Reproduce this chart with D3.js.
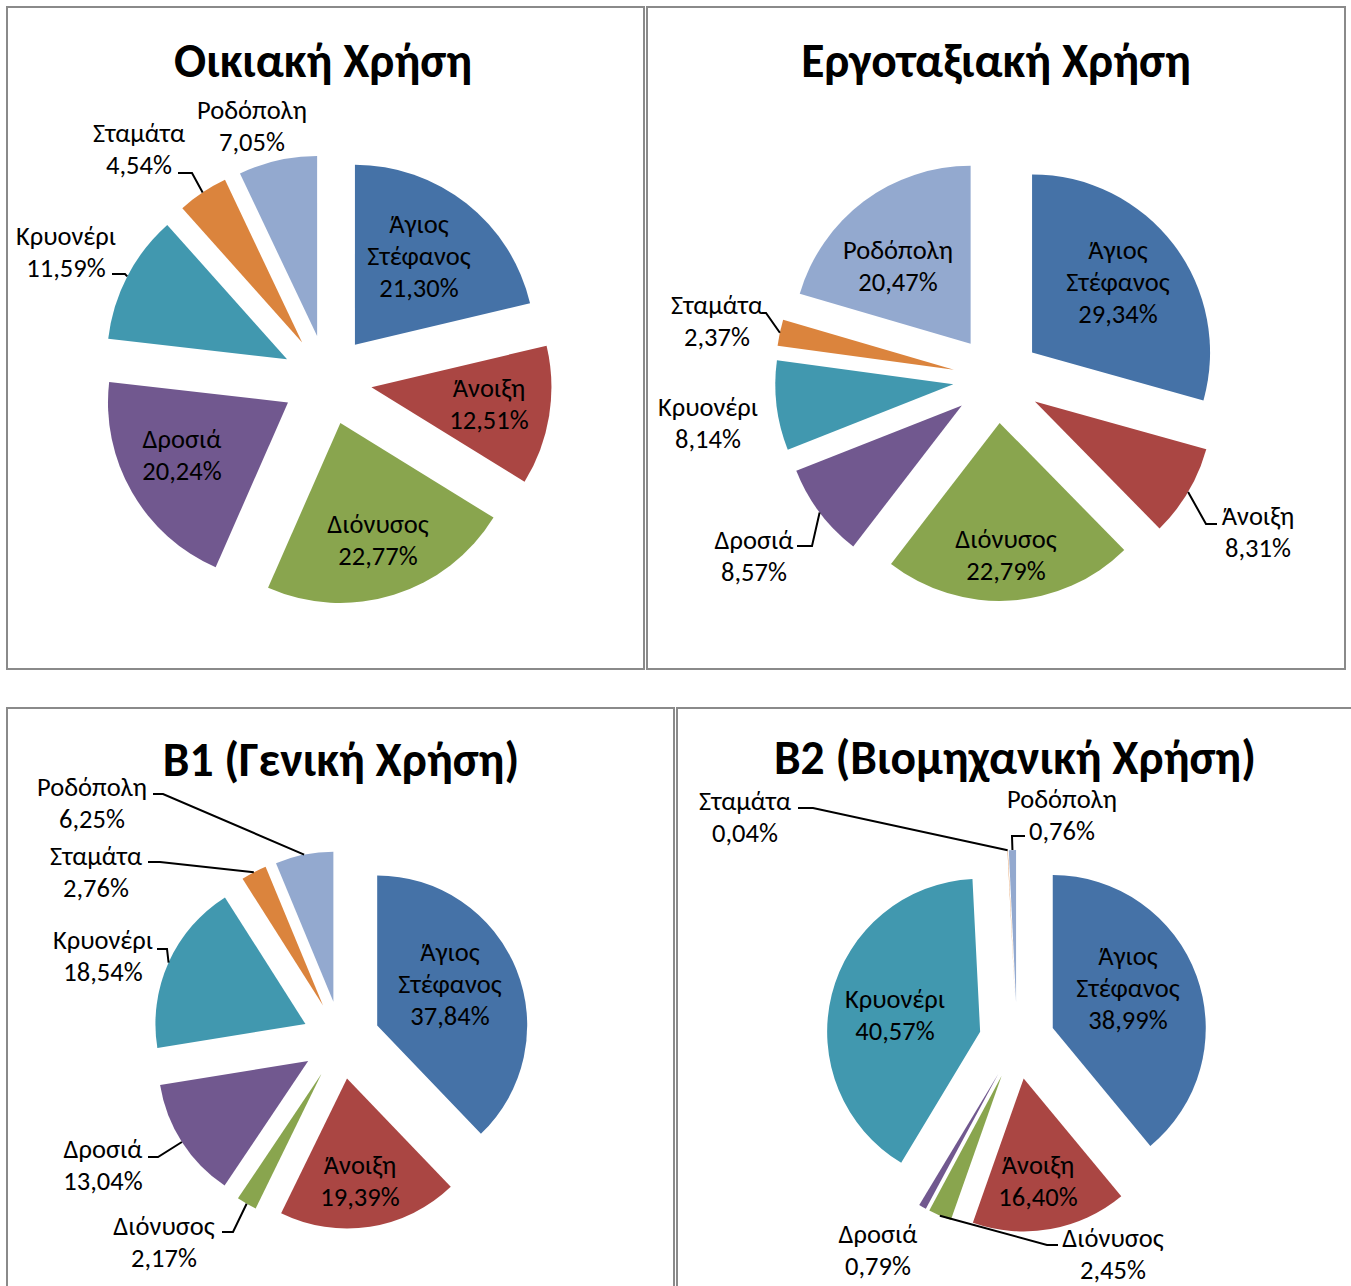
<!DOCTYPE html>
<html>
<head>
<meta charset="utf-8">
<script src="https://cdn.jsdelivr.net/npm/d3@7"></script>
<style>
  body { margin: 0; background: #fff; }
  svg text { font-family: Carlito, Calibri, "Noto Sans", sans-serif; fill: #000; }
</style>
</head>
<body>
<svg id="chart" width="1351" height="1286"></svg>
<script>
// slice names, in Excel's clockwise order from 12 o'clock
var categories = ["Άγιος Στέφανος", "Άνοιξη", "Διόνυσος", "Δροσιά", "Κρυονέρι", "Σταμάτα", "Ροδόπολη"];
var colors = ["#4572A7", "#AA4643", "#89A54E", "#71588F", "#4198AF", "#DB843D", "#93A9CF"];
var titles = ["Οικιακή Χρήση", "Εργοταξιακή Χρήση", "B1 (Γενική Χρήση)", "B2 (Βιομηχανική Χρήση)"];

// percentages
var oikiaki     = [21.30, 12.51, 22.77, 20.24, 11.59, 4.54, 7.05];
var ergotaxiaki = [29.34,  8.31, 22.79,  8.57,  8.14, 2.37, 20.47];
var b1Geniki    = [37.84, 19.39,  2.17, 13.04, 18.54, 2.76, 6.25];
var b2Viomix    = [38.99, 16.40,  2.45,  0.79, 40.57, 0.04, 0.76];

// layout of the four panels (label spots = centre of label block; leader = [elbowX, elbowY, endX])
var panels = [
  { values: oikiaki, box: [7, 7, 637, 662], titleX: 323, titleY: 77,
    cx: 327, cy: 380, r: 180, explode: 45,
    labels: [
      { at: [419, 256], split: true },
      { at: [489, 404] },
      { at: [378, 540] },
      { at: [182, 455] },
      { at: [66, 252], leader: [125, 274, 112] },
      { at: [139, 149], leader: [192, 173, 178] },
      { at: [252, 126] }
    ] },
  { values: ergotaxiaki, box: [647, 7, 698, 662], titleX: 996, titleY: 77,
    cx: 997, cy: 379, r: 178, explode: 44,
    labels: [
      { at: [1118, 282], split: true },
      { at: [1258, 532], leader: [1206, 524, 1217] },
      { at: [1006, 555] },
      { at: [754, 556], leader: [812, 546, 797] },
      { at: [708, 423] },
      { at: [717, 321], leader: [766, 313, 762] },
      { at: [898, 266] }
    ] },
  { values: b1Geniki, box: [7, 708, 667, 620], titleX: 341, titleY: 776,
    cx: 341, cy: 1040, r: 150, explode: 39,
    labels: [
      { at: [450, 984], split: true },
      { at: [360, 1181] },
      { at: [164, 1242], leader: [233, 1232, 222] },
      { at: [103, 1165], leader: [158, 1157, 148] },
      { at: [103, 956], leader: [167, 949, 157] },
      { at: [96, 872], leader: [160, 862, 148] },
      { at: [92, 803], leader: [163, 794, 153] }
    ] },
  { values: b2Viomix, box: [677, 708, 700, 620], titleX: 1015, titleY: 774,
    cx: 1017, cy: 1041, r: 153, explode: 38,
    labels: [
      { at: [1128, 988], split: true },
      { at: [1038, 1181] },
      { at: [1113, 1254], leader: [1047, 1245, 1058] },
      { at: [878, 1250] },
      { at: [895, 1015] },
      { at: [745, 817], leader: [813, 808, 798] },
      { at: [1062, 815], leader: [1012, 836, 1025] }
    ] }
];

var svg = d3.select("#chart");
var fmt = d3.format(".2f");
function pct(v) { return fmt(v).replace(".", ",") + "%"; }

var pie = d3.pie().sort(null).value(function(d) { return d; });

panels.forEach(function(p, pi) {
  var g = svg.append("g");

  g.append("rect")
    .attr("x", p.box[0]).attr("y", p.box[1])
    .attr("width", p.box[2]).attr("height", p.box[3])
    .attr("fill", "none").attr("stroke", "#8a8a8a").attr("stroke-width", 2);

  g.append("text")
    .attr("x", p.titleX).attr("y", p.titleY)
    .attr("text-anchor", "middle")
    .attr("font-size", 47.5).attr("font-weight", "bold")
    .text(titles[pi]);

  var arc = d3.arc().innerRadius(0).outerRadius(p.r);
  var arcs = pie(p.values);

  function offset(d) {
    var mid = (d.startAngle + d.endAngle) / 2;
    return [p.explode * Math.sin(mid), -p.explode * Math.cos(mid)];
  }

  g.append("g").selectAll("path")
    .data(arcs)
    .enter().append("path")
    .attr("d", arc)
    .attr("fill", function(d, i) { return colors[i]; })
    .attr("transform", function(d) {
      var o = offset(d);
      return "translate(" + (p.cx + o[0]) + "," + (p.cy + o[1]) + ")";
    });

  // leader lines
  arcs.forEach(function(d, i) {
    var lb = p.labels[i];
    if (!lb.leader) return;
    var mid = (d.startAngle + d.endAngle) / 2;
    var o = offset(d);
    var sx = p.cx + o[0] + p.r * Math.sin(mid);
    var sy = p.cy + o[1] - p.r * Math.cos(mid);
    g.append("polyline")
      .attr("points", [[sx, sy], [lb.leader[0], lb.leader[1]], [lb.leader[2], lb.leader[1]]].join(" "))
      .attr("fill", "none").attr("stroke", "#000").attr("stroke-width", 2);
  });

  // data labels
  arcs.forEach(function(d, i) {
    var lb = p.labels[i];
    var lines = lb.split ? categories[i].split(" ") : [categories[i]];
    lines = lines.concat([pct(p.values[i])]);
    var lh = 32;
    var t = g.append("text")
      .attr("text-anchor", "middle")
      .attr("font-size", 26.5);
    lines.forEach(function(s, k) {
      t.append("tspan")
        .attr("x", lb.at[0])
        .attr("y", lb.at[1] + (k - (lines.length - 1) / 2) * lh)
        .attr("dominant-baseline", "central")
        .text(s);
    });
  });
});
</script>
</body>
</html>
